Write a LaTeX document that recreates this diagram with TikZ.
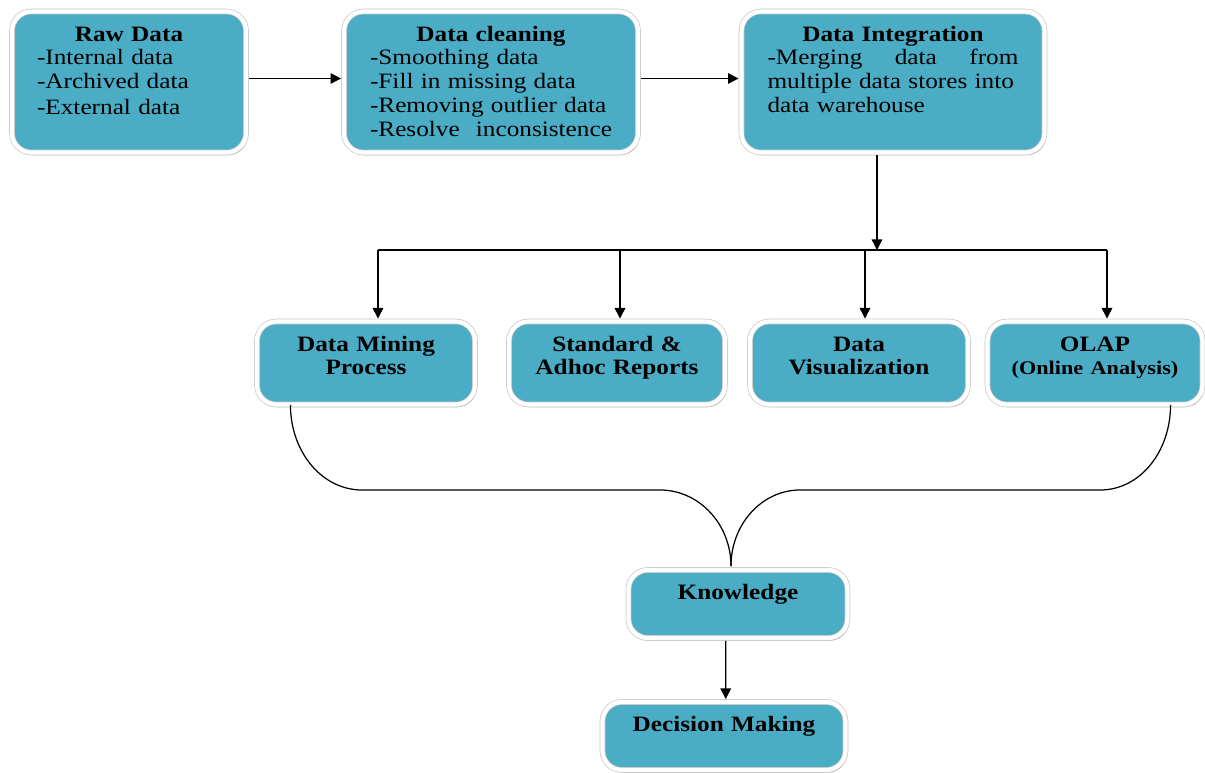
\documentclass[tikz,border=0pt]{standalone}
\usepackage{fontspec}
\setmainfont{Liberation Serif}[FakeStretch=1.15]
\usepackage{tikz}
\usetikzlibrary{arrows.meta,shadows}
\definecolor{boxblue}{HTML}{4BACC6}

\tikzset{
  blk/.style={rounded corners=11pt, fill=boxblue, draw=gray!45, line width=0.4pt,
    double=white, double distance=2.4pt,
    drop shadow={shadow xshift=0.9pt, shadow yshift=-1.5pt, fill=black!55, opacity=0.65}},
  txt/.style={anchor=base, inner sep=0pt, font=\fontsize{12.5}{13.6}\selectfont},
  hd/.style={txt, align=center, text width=4cm, font=\fontsize{12.5}{13.6}\selectfont\bfseries},
  arr/.style={-{Triangle[length=6pt,width=6pt]}, line width=0.8pt, shorten <=1.5pt, shorten >=1.5pt},
  link/.style={line width=0.7pt},
}

\begin{document}
\begin{tikzpicture}[x=0.02cm, y=-0.02cm]
	\useasboundingbox (0,0) rectangle (1205,772);

	% top row
	\node[blk, minimum width=4.68cm, minimum height=2.82cm] at (129,82) (raw) {};
	\node[blk, minimum width=5.88cm, minimum height=2.82cm] at (491,82) (clean) {};
	\node[blk, minimum width=6.06cm, minimum height=2.82cm] at (893,82) (integ) {};

	\node[txt, text width=3.68cm] at ([yshift=-17pt]raw.north) (rawtxt) {{\centering\textbf{Raw Data}\par}
		-Internal data\\
		-Archived data\\[1pt]
		-External data};
	\node[txt, text width=4.84cm] at ([yshift=-17pt]clean.north) (cleantxt) {{\centering\textbf{Data cleaning}\par}
		-Smoothing data\\
		-Fill in missing data\\
		-Removing outlier data\\
		-Resolve\hfill inconsistence};
	\node[txt, text width=5.02cm] at ([yshift=-17pt]integ.north) (integtxt) {{\centering\textbf{Data Integration}\par}
		-Merging\hfill data\hfill from\\
		multiple data stores into\\
		data warehouse};

	% middle row
	\node[blk, minimum width=4.36cm, minimum height=1.66cm] at (366,363) (mining) {};
	\node[blk, minimum width=4.32cm, minimum height=1.66cm] at (617,363) (std) {};
	\node[blk, minimum width=4.36cm, minimum height=1.66cm] at (859,363) (vis) {};
	\node[blk, minimum width=4.30cm, minimum height=1.66cm] at (1095,363) (olap) {};

	\node[hd] at ([yshift=-17pt]mining.north) (miningtxt) {Data Mining\\Process};
	\node[hd] at ([yshift=-17pt]std.north) (stdtxt) {Standard \&\\Adhoc Reports};
	\node[hd] at ([yshift=-17pt]vis.north) (vistxt) {Data\\Visualization};
	\node[hd] at ([yshift=-17pt]olap.north) (olaptxt) {OLAP\\{\fontsize{11}{13}\selectfont(Online Analysis)}};

	% bottom
	\node[blk, minimum width=4.38cm, minimum height=1.36cm] at (738,604) (know) {};
	\node[blk, minimum width=4.86cm, minimum height=1.36cm] at (724,736) (dec) {};

	\node[hd] at ([yshift=-17pt]know.north) (knowtxt) {Knowledge};
	\node[hd] at ([yshift=-17pt]dec.north) (dectxt) {Decision Making};

	% connectors
	\draw[arr] ([yshift=2pt]raw.east) -- ([yshift=2pt]clean.west);
	\draw[arr] ([yshift=2pt]clean.east) -- ([yshift=2pt]integ.west);

	\coordinate (hub) at (877,250);
	\coordinate (barL) at (378,250);
	\coordinate (barR) at (1107,250);
	\draw[arr, shorten >=0pt] (integ.south -| hub) -- (hub);
	\draw[line width=0.8pt] (barL) -- (barR);
	\foreach \x/\n in {378/mining, 620/std, 865/vis, 1107/olap}
		\draw[arr, shorten <=0pt] (\x,250) coordinate (t\n) -- (t\n |- \n.north);

	\coordinate (join) at ([xshift=-4pt, yshift=2pt]know.north);
	\draw[link] ([xshift=-43pt]mining.south) .. controls +(0,47) and (322,490) .. (362,490)
		-- (660,490) .. controls (699,490) and (731,524) .. (join);
	\draw[link] ([xshift=43pt]olap.south) .. controls +(0,47) and (1140,490) .. (1100,490)
		-- (800,490) .. controls (762,490) and (731,524) .. (join);

	\draw[arr] ([xshift=-7pt]know.south) -- ([xshift=1pt]dec.north);
\end{tikzpicture}
\end{document}
